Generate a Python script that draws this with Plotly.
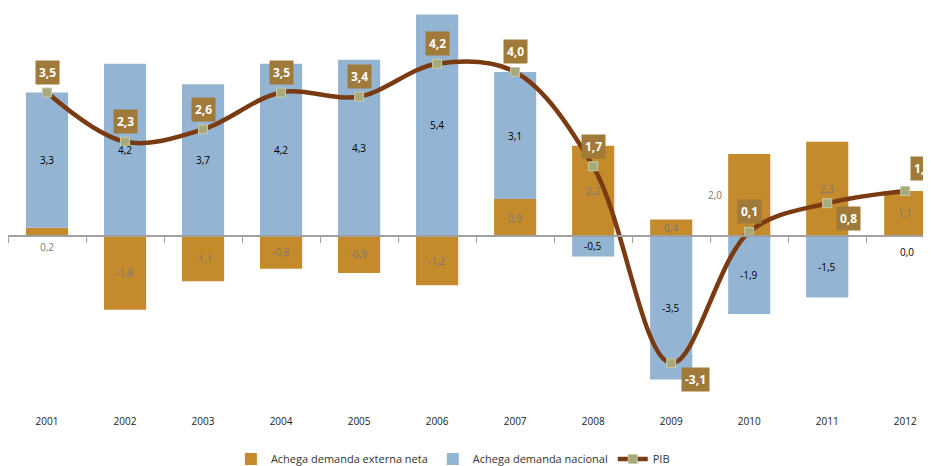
import plotly.graph_objects as go

years = ["2001", "2002", "2003", "2004", "2005", "2006", "2007", "2008", "2009", "2010", "2011", "2012"]
externa = [0.2, -1.8, -1.1, -0.8, -0.9, -1.2, 0.9, 2.2, 0.4, 2.0, 2.3, 1.1]
nacional = [3.3, 4.2, 3.7, 4.2, 4.3, 5.4, 3.1, -0.5, -3.5, -1.9, -1.5, 0.0]
pib = [3.5, 2.3, 2.6, 3.5, 3.4, 4.2, 4.0, 1.7, -3.1, 0.1, 0.8, 1.1]

C_EXT = "#C48A2C"
C_NAC = "#94B4D3"
C_LINE = "#7A3B12"
C_MARK = "#A6AA7C"
C_BOX = "#A07A38"
FONT = "Open Sans"

def fmt(v):
    return f"{v:.1f}".replace(".", ",")

xi = list(range(len(years)))
YMIN, YMAX = -4.12, 5.56
XMIN, XMAX = -0.5, 11.33

fig = go.Figure()
fig.add_trace(go.Bar(x=xi, y=externa, name="Achega demanda externa neta",
                     marker=dict(color=C_EXT, line=dict(width=0)), width=0.54, hoverinfo="skip"))
fig.add_trace(go.Bar(x=xi, y=nacional, name="Achega demanda nacional",
                     marker=dict(color=C_NAC, line=dict(width=0)), width=0.54, hoverinfo="skip"))
fig.add_trace(go.Scatter(x=xi, y=pib, name="PIB", mode="lines+markers",
                         line=dict(color=C_LINE, width=4.5, shape="spline", smoothing=1.0),
                         marker=dict(symbol="square", size=9, color=C_MARK,
                                     line=dict(color="#C9CBA8", width=1)),
                         hoverinfo="skip"))
# helper trace for the zero-line tick axis
fig.add_trace(go.Scatter(x=xi, y=[0] * len(xi), xaxis="x2", mode="markers",
                         marker=dict(opacity=0), showlegend=False, hoverinfo="skip"))

ann = []
# bar segment labels
for i in xi:
    e, n = externa[i], nacional[i]
    ey = e / 2
    ex_shift = 0
    eys = 0
    if abs(e) < 0.3:
        ey = 0
        eys = -11
    if years[i] == "2010":
        ex_shift = -34
    ann.append(dict(x=i, y=ey, text=fmt(e), showarrow=False, xshift=ex_shift, yshift=eys,
                    font=dict(family=FONT, size=10, color="#7A7A7A")))
    if n >= 0:
        base = e if e > 0 else 0
    else:
        base = e if e < 0 else 0
    ny = base + n / 2
    nys = 0
    nxs = 0
    if abs(n) < 0.3:
        ny = 0
        nys = -16
        nxs = 2
    ann.append(dict(x=i, y=ny, text=fmt(n), showarrow=False, xshift=nxs, yshift=nys,
                    font=dict(family=FONT, size=10, color="#000000")))

# PIB labels
pib_shift = {8: (24, -16), 10: (21, -15), 11: (17, 22)}
for i in xi:
    xs, ys = pib_shift.get(i, (0, 20))
    ann.append(dict(x=i, y=pib[i], text="<b>" + fmt(pib[i]) + "</b>", showarrow=False,
                    xshift=xs, yshift=ys, bgcolor=C_BOX, borderpad=3,
                    font=dict(family=FONT, size=12, color="white")))

fig.update_layout(
    width=923, height=458,
    margin=dict(l=0, r=0, t=0, b=61, autoexpand=False),
    barmode="relative",
    plot_bgcolor="white", paper_bgcolor="white",
    font=dict(family=FONT, size=10, color="#222222"),
    xaxis=dict(range=[XMIN, XMAX], tickmode="array", tickvals=xi, ticktext=years,
               showgrid=False, zeroline=False, showline=False, ticks="",
               ticklabelstandoff=9, tickfont=dict(size=10, color="#222222"),
               automargin=False),
    xaxis2=dict(range=[XMIN, XMAX], overlaying="x", anchor="free",
                position=(0 - YMIN) / (YMAX - YMIN),
                tickmode="array", tickvals=[v - 0.5 for v in range(len(years) + 1)],
                showticklabels=False, ticks="outside", ticklen=6, tickcolor="#A0A0A0",
                showline=True, linecolor="#A0A0A0", linewidth=1.5, showgrid=False,
                zeroline=False, side="bottom", automargin=False),
    yaxis=dict(range=[YMIN, YMAX], visible=False, showgrid=False, zeroline=False,
               automargin=False),
    legend=dict(orientation="h", x=0.482, xanchor="center", y=-0.136, yanchor="middle",
                font=dict(family=FONT, size=11, color="#333333"),
                traceorder="normal", itemwidth=30),
    annotations=ann,
    showlegend=True,
)

fig.write_html("out.html")
